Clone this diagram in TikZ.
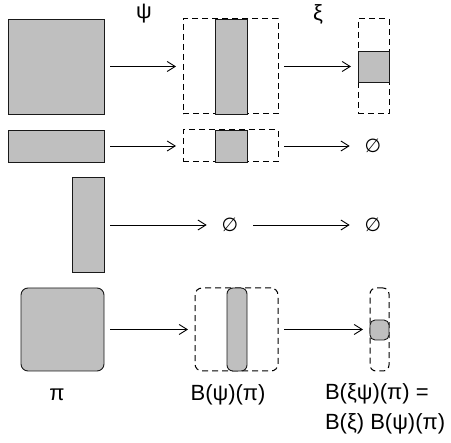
\documentclass[tikz,border=0pt]{standalone}
\usepackage{fontspec}
\setmainfont{Liberation Sans}
\newfontfamily\symfont{DejaVu Sans}
\usetikzlibrary{arrows.meta}
\begin{document}
\begin{tikzpicture}[x=1pt,y=-1pt,
  every node/.style={inner sep=0pt,outer sep=0pt},
  graybox/.style={draw=black!90,fill=black!25,line width=0.9pt,rectangle},
  dashbox/.style={draw=black,line width=1pt,dash pattern=on 6pt off 4pt,rectangle},
  roundgray/.style={graybox,rounded corners=7pt},
  rounddash/.style={dashbox,rounded corners=7pt},
  mapto/.style={draw=black,line width=0.9pt,-{Straight Barb[length=8pt,width=10pt,line width=0.9pt]},shorten <=6pt,shorten >=7pt},
  lbl/.style={font=\fontsize{22pt}{30pt}\selectfont},
  emptyset/.style={font=\symfont\fontsize{19pt}{24pt}\selectfont,inner sep=8pt}
]
\useasboundingbox (0,0) rectangle (451,443);
% row 1
\node[graybox,minimum width=96pt,minimum height=95pt] (a1) at (56,66.5) {};
\node[dashbox,minimum width=95pt,minimum height=95pt] (d1) at (230.5,66.5) {};
\node[graybox,minimum width=32pt,minimum height=95pt] (g1) at (231,66.5) {};
\node[dashbox,minimum width=31pt,minimum height=95pt] (d2) at (373.5,66.5) {};
\node[graybox,minimum width=31pt,minimum height=31pt] (g2) at (373.5,66.5) {};
\draw[mapto] (a1.east) -- (d1.west);
\draw[mapto] (d1.east) -- (d2.west);
\node[lbl] (psi) at (144,14) {ψ};
\node[lbl] (xi) at (318,14) {ξ};
% row 2
\node[graybox,minimum width=96pt,minimum height=32pt] (a2) at (56,146) {};
\node[dashbox,minimum width=95pt,minimum height=32pt] (d3) at (230.5,146) {};
\node[graybox,minimum width=32pt,minimum height=32pt] (g3) at (231,146) {};
\node[emptyset] (e1) at (373,146) {∅};
\draw[mapto] (a2.east) -- (d3.west);
\draw[mapto] (d3.east) -- (e1.west);
% row 3
\node[graybox,minimum width=32pt,minimum height=95pt] (a3) at (88,225) {};
\node[emptyset] (e2) at (230,225) {∅};
\node[emptyset] (e3) at (373,225) {∅};
\draw[mapto] (a3.east) -- (e2.west);
\draw[mapto,shorten <=7pt] (e2.east) -- (e3.west);
% row 4
\node[roundgray,minimum width=83pt,minimum height=83pt] (a4) at (62.5,329.5) {};
\node[rounddash,minimum width=83pt,minimum height=83pt] (d4) at (236.5,329.5) {};
\node[roundgray,rounded corners=6pt,minimum width=20pt,minimum height=83pt] (g4) at (237,329.5) {};
\node[rounddash,rounded corners=6pt,minimum width=19pt,minimum height=83pt] (d5) at (379.5,329.5) {};
\node[roundgray,rounded corners=5pt,minimum width=19pt,minimum height=20pt] (g5) at (379.5,330) {};
\draw[mapto] (a4.east) -- (d4.west);
\draw[mapto] (d4.east) -- (d5.west);
% labels
\node[lbl] (lpi) at (57,395) {π};
\node[lbl] (lbpsi) at (228,395) {B(ψ)(π)};
\node[lbl,align=left,anchor=north west] (lbxi) at (325,384) {B(ξψ)(π) =\\B(ξ) B(ψ)(π)};
\end{tikzpicture}
\end{document}
